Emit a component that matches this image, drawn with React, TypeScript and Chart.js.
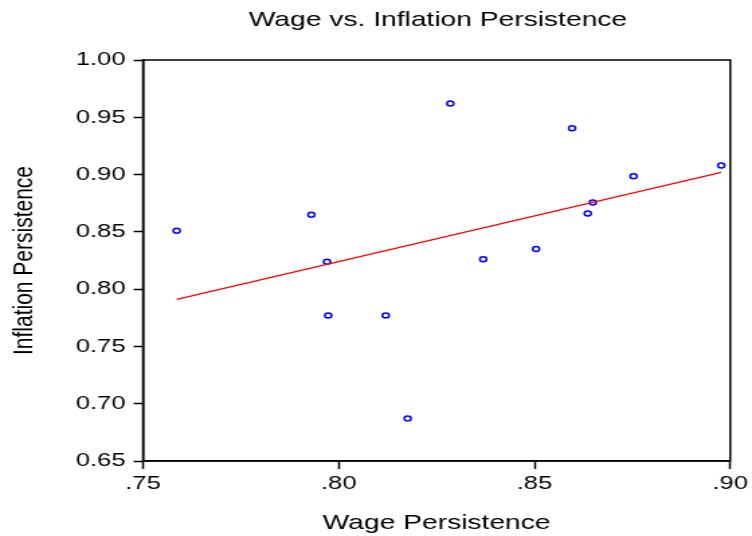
import React, { useEffect, useRef } from "react";
import { Chart, registerables } from "chart.js";

Chart.register(...registerables);

const wagePersistence = [0.7586, 0.7930, 0.7970, 0.7973, 0.8120, 0.8176, 0.8285, 0.8369, 0.8504, 0.8596, 0.8636, 0.8649, 0.8753, 0.8977];
const inflationPersistence = [0.851, 0.865, 0.824, 0.777, 0.777, 0.687, 0.962, 0.826, 0.835, 0.9405, 0.866, 0.8757, 0.8985, 0.908];
const fitX = [0.7586, 0.8977];
const fitY = [0.791, 0.902];

const titleText = "Wage vs. Inflation Persistence";
const xTitle = "Wage Persistence";
const yTitle = "Inflation Persistence";

const FONT = "'Liberation Sans', Arial, sans-serif";
const INTERNAL_W = 560;
const H = 536;
const SCALE = 752 / INTERNAL_W;

export default function App() {
  const ref = useRef<HTMLCanvasElement | null>(null);

  useEffect(() => {
    const canvas = ref.current;
    if (!canvas) return;
    const frame = {
      id: "frameAndTitle",
      afterDraw(chart: any) {
        const { ctx, chartArea } = chart;
        ctx.save();
        ctx.strokeStyle = "#000";
        ctx.lineWidth = 1.5;
        ctx.strokeRect(chartArea.left, chartArea.top, chartArea.right - chartArea.left, chartArea.bottom - chartArea.top);
        ctx.fillStyle = "#000";
        ctx.font = `21px ${FONT}`;
        ctx.textAlign = "center";
        ctx.textBaseline = "middle";
        ctx.fillText(titleText, (chartArea.left + chartArea.right) / 2 + 1, 20);
        ctx.restore();
      },
    };
    const chart = new Chart(canvas, {
      type: "scatter",
      data: {
        datasets: [
          {
            type: "line",
            data: fitX.map((x, i) => ({ x, y: fitY[i] })),
            borderColor: "#ff0000",
            borderWidth: 1.3,
            pointRadius: 0,
            fill: false,
          } as any,
          {
            data: wagePersistence.map((x, i) => ({ x, y: inflationPersistence[i] })),
            borderColor: "#0000ff",
            backgroundColor: "rgba(255,255,255,0)",
            pointRadius: 2.5,
            borderWidth: 1.5,
          },
        ],
      },
      options: {
        responsive: false,
        animation: false,
        devicePixelRatio: 1,
        layout: { padding: { top: 60, right: 10, left: 0, bottom: 0 } },
        plugins: { legend: { display: false }, tooltip: { enabled: false }, title: { display: false } },
        scales: {
          x: {
            type: "linear",
            min: 0.75,
            max: 0.9,
            afterFit(scale: any) {
              scale.height = 75;
            },
            ticks: {
              stepSize: 0.05,
              color: "#000",
              font: { family: FONT, size: 19 },
              padding: 3,
              maxRotation: 0,
              callback: (v: any) => Number(v).toFixed(2).replace(/^0/, ""),
            },
            grid: { drawOnChartArea: false, drawTicks: true, tickLength: 8, color: "#000", tickWidth: 1.5 } as any,
            border: { display: true, color: "#000", width: 1.5 },
            title: { display: true, text: xTitle, color: "#000", font: { family: FONT, size: 21 }, padding: { top: 0, bottom: 0 } },
          },
          y: {
            type: "linear",
            min: 0.65,
            max: 1.0,
            afterFit(scale: any) {
              scale.width = 106.5;
            },
            ticks: {
              stepSize: 0.05,
              color: "#000",
              font: { family: FONT, size: 19 },
              padding: 6,
              callback: (v: any) => Number(v).toFixed(2),
            },
            grid: { drawOnChartArea: false, drawTicks: true, tickLength: 7, color: "#000", tickWidth: 1.5 } as any,
            border: { display: true, color: "#000", width: 1.5 },
            title: { display: true, text: yTitle, color: "#000", font: { family: FONT, size: 21 }, padding: { top: 5.5, bottom: 0 } },
          },
        },
      },
      plugins: [frame],
    });
    return () => chart.destroy();
  }, []);

  return (
    <div style={{ position: "fixed", left: 0, top: 0, width: 752, height: H, background: "#fff" }}>
      <canvas
        ref={ref}
        width={INTERNAL_W}
        height={H}
        style={{ width: `${Math.round(INTERNAL_W * SCALE)}px`, height: `${H}px`, display: "block" }}
      />
    </div>
  );
}
